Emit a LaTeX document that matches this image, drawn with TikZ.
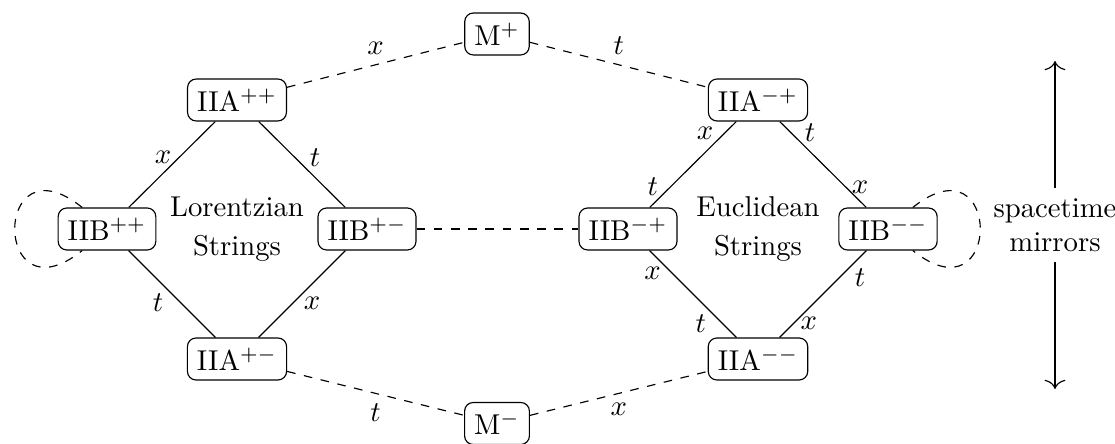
\documentclass[tikz,border=0pt]{standalone}
\usetikzlibrary{arrows.meta}
\begin{document}
\begin{tikzpicture}[x=0.3484pt,y=-0.3484pt,
  box/.style={draw,rounded corners=3pt},
  lbl/.style={},
  txt/.style={align=center},
  mirror/.style={-{To[length=3.2pt,width=7.2pt]}}]
\useasboundingbox (0,0) rectangle (1115,444);
% nodes
\node[box] (mp) at (497,34)    {M$^{+}$};
\node[box] (mm) at (497,423.5) {M$^{-}$};
\node[box] (a1) at (237,100) {IIA$^{++}$};
\node[box] (b1) at (107,229) {IIB$^{++}$};
\node[box] (b2) at (367,229) {IIB$^{+-}$};
\node[box] (a2) at (237,359) {IIA$^{+-}$};
\node[box] (a3) at (758,100) {IIA$^{-+}$};
\node[box] (b3) at (628,229) {IIB$^{-+}$};
\node[box] (b4) at (888,229) {IIB$^{--}$};
\node[box] (a4) at (758,359) {IIA$^{--}$};
\node[txt] (lor) at (237,229) {Lorentzian\\[1.5pt]Strings};
\node[txt] (euc) at (758,229) {Euclidean\\[1.5pt]Strings};
\node[txt] (sm) at (1055,225) {spacetime\\mirrors};
\coordinate (top) at (1055,61);
\coordinate (bot) at (1055,389);
% Lorentzian diamond
\draw (a1) -- node[lbl,shift={(-9,-7.5)}] {$x$} (b1);
\draw (a1) -- node[lbl,shift={(13,-6.5)}] {$t$} (b2);
\draw (b1) -- node[lbl,shift={(-14,9)}] {$t$} (a2);
\draw (b2) -- node[lbl,shift={(10,9)}] {$x$} (a2);
% Euclidean diamond
\draw (a3) -- node[lbl,pos=.2,shift={(-14,-5.7)}] {$x$}
              node[lbl,pos=.8,shift={(-14.3,-3.6)}] {$t$} (b3);
\draw (a3) -- node[lbl,pos=.2,shift={(13,-5.7)}] {$t$}
              node[lbl,pos=.8,shift={(11,-3.3)}] {$x$} (b4);
\draw (b3) -- node[lbl,pos=.2,shift={(-14.3,5.6)}] {$x$}
              node[lbl,pos=.8,shift={(-18.3,4)}] {$t$} (a4);
\draw (b4) -- node[lbl,pos=.2,shift={(11,9.3)}] {$t$}
              node[lbl,pos=.8,shift={(12,3.7)}] {$x$} (a4);
% dashed connections
\draw[dashed] (a1) -- node[lbl,above] {$x$} (mp);
\draw[dashed] (mp) -- node[lbl,above] {$t$} (a3);
\draw[dashed] (a2) -- node[lbl,below] {$t$} (mm);
\draw[dashed] (mm) -- node[lbl,below] {$x$} (a4);
\draw[dashed] (b2) -- (b3);
% loops
\draw[dashed] (b1.139) .. controls +(-90,-72) and +(-90,72) .. (b1.221);
\draw[dashed] (b4.41) .. controls +(90,-72) and +(90,72) .. (b4.-41);
% spacetime mirrors arrow
\draw[mirror] (sm) -- (top);
\draw[mirror] (sm) -- (bot);
\end{tikzpicture}
\end{document}
